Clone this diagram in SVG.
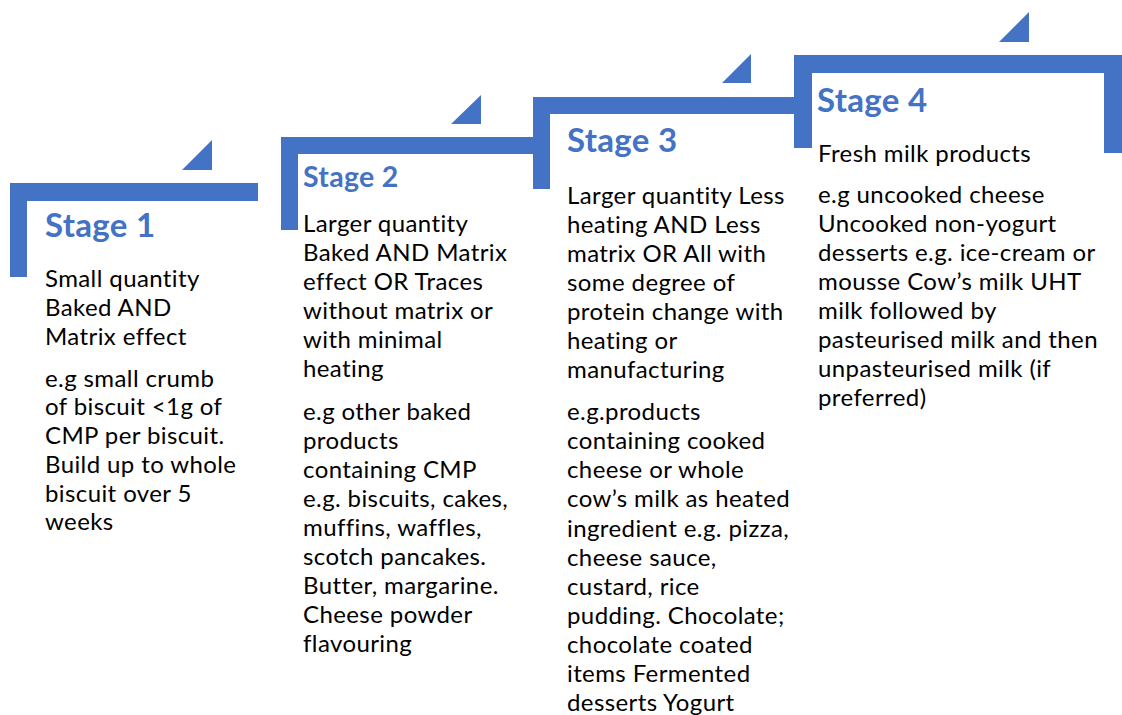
<svg xmlns="http://www.w3.org/2000/svg" width="1122" height="715" viewBox="0 0 1122 715">
<style>
.bar{fill:#4472C4}
.title{font-family:Lato,"Liberation Sans",sans-serif;font-weight:bold;fill:#4472C4;letter-spacing:0.3px}
.body{font-family:Lato,"Liberation Sans",sans-serif;font-size:24px;letter-spacing:0.4px;fill:#000}
</style>
<rect width="1122" height="715" fill="#fff"/>
<g id="stage1">
<rect class="bar" x="10" y="183" width="248" height="18"/>
<rect class="bar" x="10" y="183" width="17" height="94"/>
<polygon class="bar" points="182,170 212,140 212,170"/>
<text class="title" x="45" y="237" font-size="33">Stage 1</text>
<text class="body" x="45">
<tspan x="45" y="287">Small quantity</tspan>
<tspan x="45" y="316">Baked AND</tspan>
<tspan x="45" y="344.5">Matrix effect</tspan>
<tspan x="45" y="386.5">e.g small crumb</tspan>
<tspan x="45" y="415">of biscuit &lt;1g of</tspan>
<tspan x="45" y="444">CMP per biscuit.</tspan>
<tspan x="45" y="473">Build up to whole</tspan>
<tspan x="45" y="501.5">biscuit over 5</tspan>
<tspan x="45" y="530">weeks</tspan>
</text>
</g>
<g id="stage2">
<rect class="bar" x="281" y="137" width="253" height="17"/>
<rect class="bar" x="281" y="137" width="17" height="93"/>
<polygon class="bar" points="451,124 481,95 481,124"/>
<text class="title" x="303" y="187" font-size="28.5">Stage 2</text>
<text class="body">
<tspan x="303" y="232">Larger quantity</tspan>
<tspan x="303" y="261">Baked AND Matrix</tspan>
<tspan x="303" y="290">effect OR Traces</tspan>
<tspan x="303" y="319">without matrix or</tspan>
<tspan x="303" y="348">with minimal</tspan>
<tspan x="303" y="377">heating</tspan>
<tspan x="303" y="419.5">e.g other baked</tspan>
<tspan x="303" y="448.5">products</tspan>
<tspan x="303" y="477.5">containing CMP</tspan>
<tspan x="303" y="506.5">e.g. biscuits, cakes,</tspan>
<tspan x="303" y="535.5">muffins, waffles,</tspan>
<tspan x="303" y="565">scotch pancakes.</tspan>
<tspan x="303" y="594">Butter, margarine.</tspan>
<tspan x="303" y="623">Cheese powder</tspan>
<tspan x="303" y="652">flavouring</tspan>
</text>
</g>
<g id="stage3">
<rect class="bar" x="533" y="97" width="262" height="17"/>
<rect class="bar" x="533" y="97" width="17" height="92"/>
<polygon class="bar" points="722,83 751,54 751,83"/>
<text class="title" x="567" y="152" font-size="33">Stage 3</text>
<text class="body">
<tspan x="567" y="203.5">Larger quantity Less</tspan>
<tspan x="567" y="232.5">heating AND Less</tspan>
<tspan x="567" y="261.5">matrix OR All with</tspan>
<tspan x="567" y="291">some degree of</tspan>
<tspan x="567" y="320">protein change with</tspan>
<tspan x="567" y="349">heating or</tspan>
<tspan x="567" y="378">manufacturing</tspan>
<tspan x="567" y="420">e.g.products</tspan>
<tspan x="567" y="449">containing cooked</tspan>
<tspan x="567" y="478">cheese or whole</tspan>
<tspan x="567" y="507">cow’s milk as heated</tspan>
<tspan x="567" y="536.5">ingredient e.g. pizza,</tspan>
<tspan x="567" y="566">cheese sauce,</tspan>
<tspan x="567" y="595">custard, rice</tspan>
<tspan x="567" y="624">pudding. Chocolate;</tspan>
<tspan x="567" y="653">chocolate coated</tspan>
<tspan x="567" y="682">items Fermented</tspan>
<tspan x="567" y="711">desserts Yogurt</tspan>
</text>
</g>
<g id="stage4">
<rect class="bar" x="794" y="55" width="328" height="18"/>
<rect class="bar" x="794" y="55" width="18" height="93"/>
<rect class="bar" x="1104" y="55" width="18" height="98"/>
<polygon class="bar" points="999,42 1029,12 1029,42"/>
<text class="title" x="817" y="112" font-size="33">Stage 4</text>
<text class="body">
<tspan x="818" y="162">Fresh milk products</tspan>
<tspan x="818" y="202.5">e.g uncooked cheese</tspan>
<tspan x="818" y="231.5">Uncooked non-yogurt</tspan>
<tspan x="818" y="260.5">desserts e.g. ice-cream or</tspan>
<tspan x="818" y="289.5">mousse Cow’s milk UHT</tspan>
<tspan x="818" y="318.5">milk followed by</tspan>
<tspan x="818" y="347.5">pasteurised milk and then</tspan>
<tspan x="818" y="377">unpasteurised milk (if</tspan>
<tspan x="818" y="406">preferred)</tspan>
</text>
</g>
<g id="connectors"></g>
</svg>
